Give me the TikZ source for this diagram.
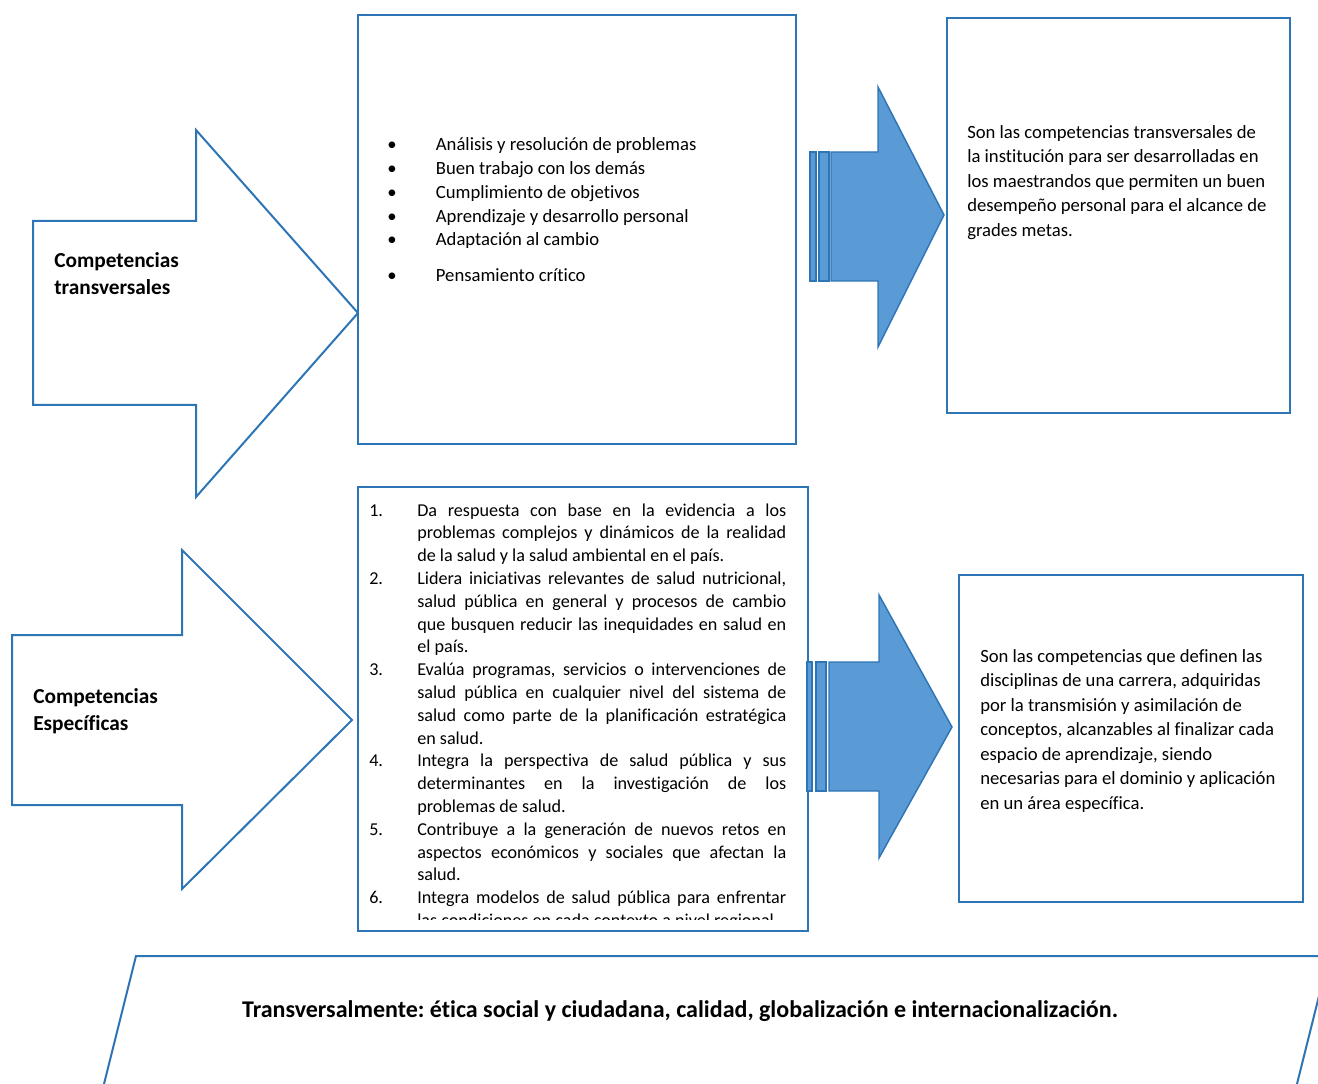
\documentclass[tikz,border=0pt]{standalone}
\usepackage{fontspec}
\setmainfont{Carlito}[Ligatures=NoCommon]
\usetikzlibrary{positioning}

\definecolor{edgeblue}{RGB}{46,117,182}
\definecolor{arrowfill}{RGB}{91,155,213}
\newcommand\leftlabel[1]{#1\hfil}

\tikzset{
  boxline/.style={draw=edgeblue, line width=1.5pt, fill=white},
  fatarrow/.style={draw=edgeblue, line width=1.1pt, fill=arrowfill, line join=miter},
  stripe/.style={draw=edgeblue, line width=1.1pt, fill=arrowfill},
  bodytext/.style={inner sep=0pt, anchor=north west, align=left,
    font=\fontsize{14}{18.375}\selectfont},
  headtext/.style={inner sep=0pt, anchor=north west, align=left,
    font=\fontsize{16}{20.25}\selectfont\bfseries}
}

\begin{document}
\frenchspacing
\begin{tikzpicture}[x=0.75pt, y=-0.75pt]
\useasboundingbox (0,0) rectangle (1318,1084);
\clip (0,0) rectangle (1318,1084);

% upper row
\draw[boxline] (33,221) -- (196,221) -- (196,130) -- (358,313)
  -- (196,497) -- (196,405) -- (33,405) -- cycle;
\node[headtext] (transv) at (54,252) {Competencias\\transversales};

\draw[boxline] (358,15) rectangle (796,444);
\node[inner sep=0pt, anchor=north west, font=\fontsize{14}{17.8}\selectfont] (transvlist) at (387,134)
  {\begin{tabular}{@{}p{36.5pt}@{}l@{}}
   \textbullet & Análisis y resolución de problemas\\
   \textbullet & Buen trabajo con los demás\\
   \textbullet & Cumplimiento de objetivos\\
   \textbullet & Aprendizaje y desarrollo personal\\
   \textbullet & Adaptación al cambio\\[9pt]
   \textbullet & Pensamiento crítico
   \end{tabular}};

\draw[stripe] (810,152) rectangle (816,281);
\draw[stripe] (819,152) rectangle (829,281);
\draw[fatarrow] (831,152) -- (878,152) -- (878,87) -- (944,215)
  -- (878,347) -- (878,281) -- (831,281) -- cycle;

\draw[boxline] (947,18) rectangle (1290,413);
\node[bodytext] (transvdef) at (967,125)
  {Son las competencias transversales de\\
   la institución para ser desarrolladas en\\
   los maestrandos que permiten un buen\\
   desempeño personal para el alcance de\\
   grades metas.};

% lower row
\draw[boxline] (12,635) -- (182,635) -- (182,550) -- (352,720)
  -- (182,889) -- (182,805) -- (12,805) -- cycle;
\node[headtext] (espec) at (33,688) {Competencias\\Específicas};

\draw[boxline] (358,487) rectangle (808,931);
\begin{scope}
\clip (359,489) rectangle (807,919);
\node[inner sep=0pt, anchor=north west, text width=312.75pt, align=justify,
  font=\fontsize{13.6}{17.1}\selectfont] (especlist) at (369,493)
  {\tolerance=10000\hyphenpenalty=10000
   \begin{list}{\arabic{enumi}.}{\usecounter{enumi}%
     \setlength\leftmargin{36pt}\setlength\labelwidth{36pt}%
     \setlength\labelsep{0pt}\setlength\itemsep{0pt}%
     \setlength\parsep{0pt}\setlength\topsep{0pt}%
     \setlength\partopsep{0pt}\let\makelabel\leftlabel}
   \item Da respuesta con base en la evidencia a los\linebreak
     problemas complejos y dinámicos de la realidad\linebreak
     de la salud y la salud ambiental en el país.
   \item Lidera iniciativas relevantes de salud nutricional,\linebreak
     salud pública en general y procesos de cambio\linebreak
     que busquen reducir las inequidades en salud en\linebreak
     el país.
   \item Evalúa programas, servicios o intervenciones de\linebreak
     salud pública en cualquier nivel del sistema de\linebreak
     salud como parte de la planificación estratégica\linebreak
     en salud.
   \item Integra la perspectiva de salud pública y sus\linebreak
     determinantes en la investigación de los\linebreak
     problemas de salud.
   \item Contribuye a la generación de nuevos retos en\linebreak
     aspectos económicos y sociales que afectan la\linebreak
     salud.
   \item Integra modelos de salud pública para enfrentar\linebreak
     las condiciones en cada contexto a nivel regional.
   \end{list}};
\end{scope}

\draw[stripe] (807,662) rectangle (812,791);
\draw[stripe] (816,662) rectangle (826,791);
\draw[fatarrow] (829,662) -- (879,662) -- (879,595) -- (952,727)
  -- (879,858) -- (879,791) -- (829,791) -- cycle;

\draw[boxline] (959,575) rectangle (1303,902);
\node[bodytext] (especdef) at (980,649)
  {Son las competencias que definen las\\
   disciplinas de una carrera, adquiridas\\
   por la transmisión y asimilación de\\
   conceptos, alcanzables al finalizar cada\\
   espacio de aprendizaje, siendo\\
   necesarias para el dominio y aplicación\\
   en un área específica.};

% bottom band
\draw[boxline] (100,1100) -- (136,956) -- (1329,956) -- (1293,1100);
\node[font=\fontsize{18}{22}\selectfont\bfseries, inner sep=0pt] (transvband) at (680,1011)
  {Transversalmente: ética social y ciudadana, calidad, globalización e internacionalización.};
\end{tikzpicture}
\end{document}
